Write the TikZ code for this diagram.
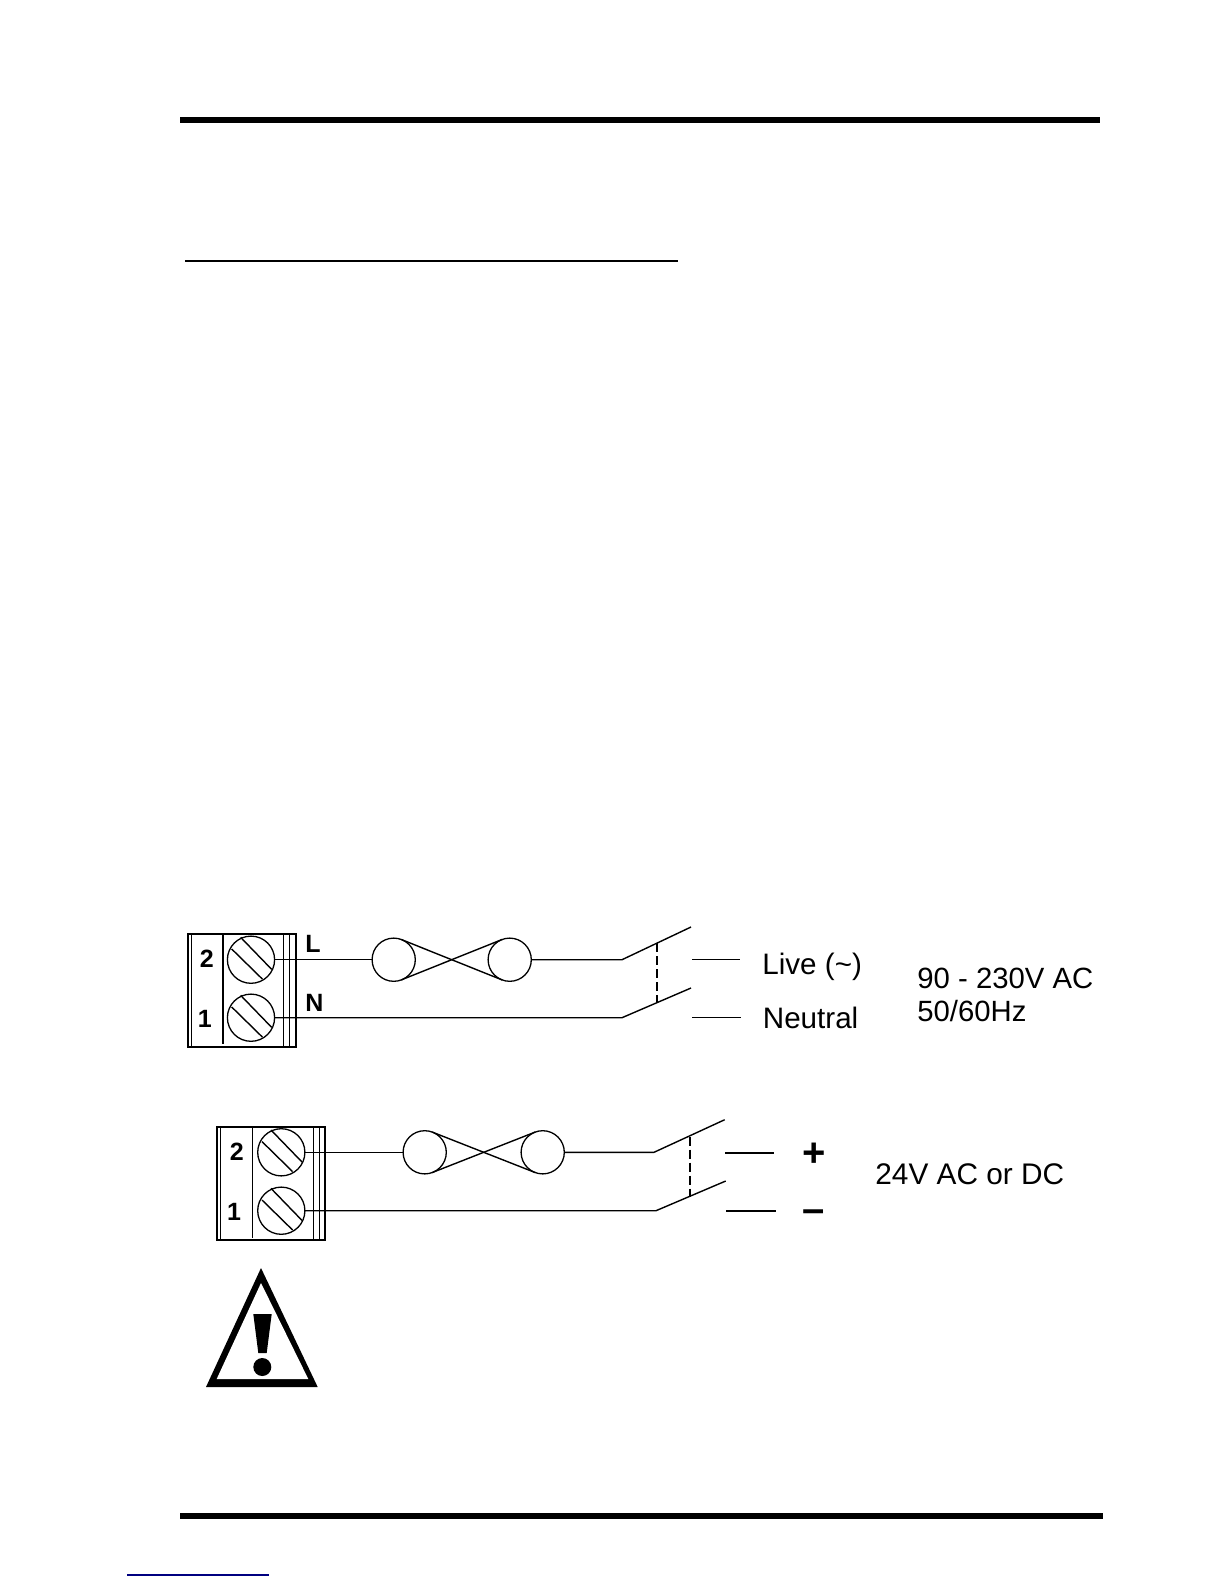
\documentclass[tikz,border=0pt]{standalone}
\usepackage{fontspec}
\setmainfont{Liberation Sans}
\tikzset{
    wire/.style = {line width=0.7pt},
    screw/.style = {circle, draw, line width=0.65pt, minimum size=23.6pt, inner sep=0pt, outer sep=0pt},
    coil/.style = {circle, draw, line width=0.65pt, minimum size=21.6pt, inner sep=0pt, outer sep=0pt},
    rule/.style = {line width=3pt},
    tag/.style = {font=\fontsize{14.65}{17}\selectfont, anchor=base west, inner sep=0pt},
    pin/.style = {font=\bfseries\fontsize{12.5}{14}\selectfont, inner sep=0pt},
    sign/.style = {font=\bfseries\fontsize{20}{22}\selectfont, inner sep=0pt}
}
\begin{document}
\begin{tikzpicture}[x=0.5pt, y=-0.5pt]
    \useasboundingbox (0,0) rectangle (1224,1584);

    % page rules
    \coordinate (ruleTopL) at (180,120);
    \coordinate (ruleTopR) at (1100,120);
    \coordinate (ruleBotL) at (180,1516);
    \coordinate (ruleBotR) at (1103,1516);
    \coordinate (headL) at (185,261);
    \coordinate (headR) at (678,261);
    \coordinate (linkL) at (127,1575);
    \coordinate (linkR) at (269,1575);
    \draw[rule] (ruleTopL) -- (ruleTopR);
    \draw[rule] (ruleBotL) -- (ruleBotR);
    \draw[line width=1pt] (headL) -- (headR);
    \draw[line width=0.7pt, blue!50!black] (linkL) -- (linkR);

    % mains terminal block
    \draw[line width=1pt] (187.5,934) rectangle (295.5,1046.5);
    \draw[wire] (191.7,934) -- (191.7,1046.5);
    \draw[line width=0.9pt] (223,934) -- (223,1044);
    \draw[wire] (283.7,934) -- (283.7,1046.5);
    \draw[wire] (289.3,934) -- (289.3,1046.5);
    \node[pin] (two) at (206.7,959) {2};
    \node[pin] (one) at (204.7,1019) {1};
    \node[screw] (s2) at (251,959.7) {};
    \node[screw] (s1) at (251,1017.7) {};
    \foreach \s in {s2,s1} {
        \draw[wire] ([shift={(-10.3,-22.3)}]\s.center) -- ([shift={(20.7,9.7)}]\s.center);
        \draw[wire] ([shift={(-19.3,-10.7)}]\s.center) -- ([shift={(11.3,19.3)}]\s.center);
    }
    \node[pin, anchor=base west] (live) at (305,952.7) {L};
    \node[pin, anchor=base west] (neut) at (305,1011) {N};

    % fuse and switch
    \node[coil] (ca) at (393.7,959.7) {};
    \node[coil] (cb) at (509.7,959.7) {};
    \draw[wire] (ca.70) -- (cb.250);
    \draw[wire] (ca.-70) -- (cb.110);
    \coordinate (swa) at (622,959.7);
    \coordinate (swb) at (622,1017.7);
    \coordinate (bla) at (691,927);
    \coordinate (blb) at (691,988);
    \coordinate (dasha) at (657,943);
    \coordinate (dashb) at (657,1002);
    \draw[wire] (s2.east) -- (ca.west);
    \draw[wire] (cb.east) -- (swa) -- (bla);
    \draw[wire] (s1.east) -- (swb) -- (blb);
    \draw[wire, dash pattern=on 4.5pt off 2pt] (dasha) -- (dashb);
    \coordinate (fa) at (692,959.3);
    \coordinate (fae) at (740,959.3);
    \coordinate (fb) at (692,1017.7);
    \coordinate (fbe) at (741,1017.7);
    \draw[wire] (fa) -- (fae);
    \draw[wire] (fb) -- (fbe);
    \node[tag, font=\fontsize{14.8}{17}\selectfont] (ltext) at (762,974) {Live (\textasciitilde)};
    \node[tag, font=\fontsize{14.8}{17}\selectfont] (ntext) at (762.5,1028) {Neutral};
    \node[tag] (volta) at (917,988.3) {90 - 230V AC};
    \node[tag] (voltb) at (917,1021) {50/60Hz};

    % low voltage terminal block
    \draw[line width=1pt] (216.7,1126.7) rectangle (325.3,1240);
    \draw[wire] (220.7,1126.7) -- (220.7,1240);
    \draw[wire] (252.3,1126.7) -- (252.3,1238);
    \draw[wire] (313.7,1126.7) -- (313.7,1240);
    \draw[wire] (319.3,1126.7) -- (319.3,1240);
    \node[pin] (twob) at (236.7,1151.7) {2};
    \node[pin] (oneb) at (234,1211.7) {1};
    \node[screw] (t2) at (281.3,1152.3) {};
    \node[screw] (t1) at (281.3,1210.7) {};
    \foreach \s in {t2,t1} {
        \draw[wire] ([shift={(-10.3,-22.3)}]\s.center) -- ([shift={(20.7,9.7)}]\s.center);
        \draw[wire] ([shift={(-19.3,-10.7)}]\s.center) -- ([shift={(11.3,19.3)}]\s.center);
    }
    \node[coil] (cc) at (424.7,1152.3) {};
    \node[coil] (cd) at (542.7,1152.3) {};
    \draw[wire] (cc.70) -- (cd.250);
    \draw[wire] (cc.-70) -- (cd.110);
    \coordinate (swc) at (654,1152.3);
    \coordinate (swd) at (656,1210.7);
    \coordinate (blc) at (724.7,1119.7);
    \coordinate (bld) at (725.7,1181);
    \coordinate (dashc) at (690,1136.7);
    \coordinate (dashd) at (690,1196.7);
    \draw[wire] (t2.east) -- (cc.west);
    \draw[wire] (cd.east) -- (swc) -- (blc);
    \draw[wire] (t1.east) -- (swd) -- (bld);
    \draw[wire, dash pattern=on 4.5pt off 2pt] (dashc) -- (dashd);
    \coordinate (fc) at (725,1152.8);
    \coordinate (fce) at (774,1152.8);
    \coordinate (fd) at (726,1210.8);
    \coordinate (fde) at (775.7,1210.8);
    \draw[wire] (fc) -- (fce);
    \draw[wire] (fd) -- (fde);
    \node[sign] (plus) at (813.7,1155) {+};
    \node[sign] (minus) at (813.7,1216) {–};
    \node[tag, font=\fontsize{14.9}{17}\selectfont] (voltc) at (875,1184.5) {24V AC or DC};

    % warning sign
    \fill (261,1268) -- (317.7,1387) -- (206,1387) -- cycle;
    \fill[white] (261,1283) -- (308.3,1379) -- (216.7,1379) -- cycle;
    \fill (253.3,1314) -- (271.7,1314) -- (266.7,1353) -- (258.3,1353) -- cycle;
    \fill (262.3,1367) circle (4.5pt);
\end{tikzpicture}
\end{document}
